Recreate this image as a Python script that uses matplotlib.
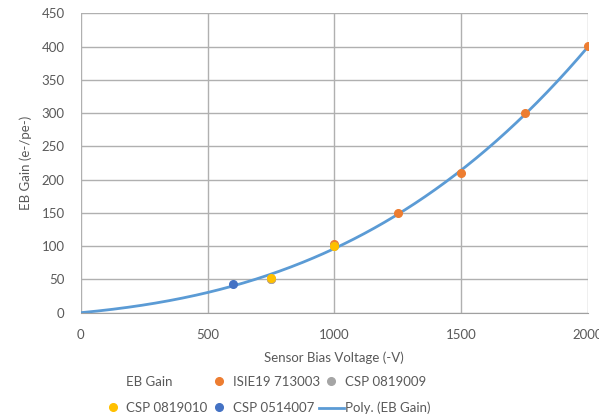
import numpy as np
import matplotlib
matplotlib.use('Agg')
from matplotlib import pyplot as plt
from matplotlib.lines import Line2D
from matplotlib.transforms import Bbox

plt.rcParams['font.family'] = ['Lato', 'DejaVu Sans']

# measured points per sensor
isie_v = [750, 1000, 1250, 1500, 1750, 2000]
isie_gain = [51, 104, 150, 210, 301, 401]
csp9_v = [750, 1000]
csp9_gain = [50, 100]
csp10_v = [750, 1000]
csp10_gain = [52, 100]
csp7_v = [600]
csp7_gain = [43]

# hidden "EB Gain" series used by the polynomial trendline
eb_v = [500, 1000, 1500, 2000]
eb_gain = [30, 97, 214, 400]

# polynomial trend (order 3, intercept fixed at 0), like excel
u = np.array(eb_v) / 1000.0
A = np.vstack([u, u ** 2, u ** 3]).T
coef = np.linalg.lstsq(A, np.array(eb_gain, dtype=float), rcond=None)[0]
xs = np.linspace(0, 2000, 300)
us = xs / 1000.0
ys = coef[0] * us + coef[1] * us ** 2 + coef[2] * us ** 3

txt = '#595959'
fs = 9.5

fig = plt.figure(figsize=(6.06, 4.19), dpi=100)
ax = fig.add_axes([80.7 / 606, 1 - 312.7 / 419, (588 - 80.7) / 606, (312.7 - 13.5) / 419])

ax.plot(xs, ys, color='#5B9BD5', lw=2, zorder=2)
ms = 5.5
ax.plot(isie_v, isie_gain, 'o', color='#ED7D31', ms=ms, zorder=3)
ax.plot(csp9_v, csp9_gain, 'o', color='#A5A5A5', ms=ms, zorder=3)
ax.plot(csp10_v, csp10_gain, 'o', color='#FFC000', ms=ms, zorder=4)
ax.plot(csp7_v, csp7_gain, 'o', color='#4472C4', ms=ms, zorder=3)

ax.set_xlim(0, 2000)
ax.set_ylim(0, 450)
ax.set_xticks(np.arange(0, 2001, 500))
ax.set_yticks(np.arange(0, 451, 50))
ax.grid(True, color='#B0B0B0', lw=1)
ax.set_axisbelow(True)
for s in ['top', 'right', 'left']:
    ax.spines[s].set_visible(False)
ax.spines['bottom'].set_color('#A0A0A0')
ax.tick_params(length=0, labelsize=fs, colors=txt)
ax.tick_params(axis='x', pad=12)
ax.tick_params(axis='y', pad=11.5)

ax.set_xlabel('Sensor Bias Voltage (-V)', fontsize=fs, color=txt, labelpad=7)
ax.set_ylabel('EB Gain (e-/pe-)', fontsize=fs, color=txt, labelpad=7)

handles = [
    Line2D([], [], ls='none', marker=None),
    Line2D([], [], ls='none', marker='o', color='#FFC000', ms=ms),
    Line2D([], [], ls='none', marker='o', color='#ED7D31', ms=ms),
    Line2D([], [], ls='none', marker='o', color='#4472C4', ms=ms),
    Line2D([], [], ls='none', marker='o', color='#A5A5A5', ms=ms),
    Line2D([], [], color='#5B9BD5', lw=2),
]
labels = ['EB Gain', 'CSP 0819010', 'ISIE19 713003', 'CSP 0514007',
          'CSP 0819009', 'Poly. (EB Gain)']
fig.legend(handles, labels, loc='upper left', bbox_to_anchor=(100 / 606, 1 - 376 / 419),
           ncol=3, frameon=False, fontsize=fs, handlelength=1.9, handletextpad=0.1,
           columnspacing=-0.1, labelspacing=1.05, borderpad=0, borderaxespad=0,
           labelcolor=txt)

# the last x label is cut at the right edge in the original
fig.canvas.draw()
clip = Bbox([[0, 0], [599, 419]])
for lab in ax.get_xticklabels():
    lab.set_clip_on(True)
    lab.set_clip_box(clip)

fig.savefig('out.png', dpi=100)
